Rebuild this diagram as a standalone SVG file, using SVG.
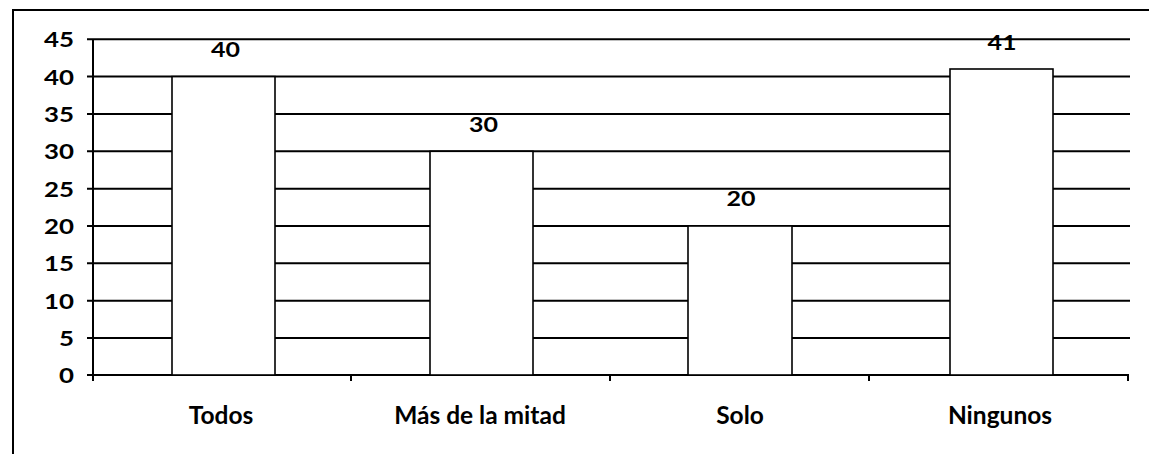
<svg xmlns="http://www.w3.org/2000/svg" width="1149" height="454" viewBox="0 0 1149 454">
<style>
.grid{stroke:#000;stroke-width:2;fill:none}
.axis{stroke:#000;stroke-width:2;fill:none}
.bar{fill:#fff;stroke:#000;stroke-width:1.6}
.t{font-family:Lato,"Open Sans","Liberation Sans",sans-serif;font-weight:bold;fill:#000}
.yl{font-size:21.5px;text-anchor:end}
.vl{font-size:21.5px;text-anchor:middle}
.cl{font-size:24.5px;text-anchor:middle}
</style>
<rect width="1149" height="454" fill="#fff"/>
<path class="axis" d="M13,454 V10 H1149"/>
<g id="gridlines">
<path class="grid" d="M87,39.3H1130M87,76.6H1130M87,114H1130M87,151.3H1130M87,188.7H1130M87,226H1130M87,263.3H1130M87,300.7H1130M87,338H1130"/>
</g>
<g id="axes">
<path class="axis" d="M93,39 V376 M87,375 H1129 M93,375V381 M351,375V381 M610,375V381 M869,375V381 M1128,375V381"/>
</g>
<g id="y-labels" class="t yl">
<text x="74" y="47" textLength="30" lengthAdjust="spacingAndGlyphs">45</text>
<text x="74" y="84.5" textLength="30" lengthAdjust="spacingAndGlyphs">40</text>
<text x="74" y="121.5" textLength="30" lengthAdjust="spacingAndGlyphs">35</text>
<text x="74" y="159" textLength="30" lengthAdjust="spacingAndGlyphs">30</text>
<text x="74" y="196.5" textLength="30" lengthAdjust="spacingAndGlyphs">25</text>
<text x="74" y="233.5" textLength="30" lengthAdjust="spacingAndGlyphs">20</text>
<text x="74" y="271" textLength="30" lengthAdjust="spacingAndGlyphs">15</text>
<text x="74" y="308.5" textLength="30" lengthAdjust="spacingAndGlyphs">10</text>
<text x="74" y="345.5" textLength="15" lengthAdjust="spacingAndGlyphs">5</text>
<text x="74" y="383" textLength="15" lengthAdjust="spacingAndGlyphs">0</text>
</g>
<g id="bar-todos">
<rect class="bar" x="172" y="76.6" width="103" height="298.4"/>
<text class="t vl" x="225.5" y="57" textLength="29" lengthAdjust="spacingAndGlyphs">40</text>
<text class="t cl" x="221" y="424">Todos</text>
</g>
<g id="bar-mas">
<rect class="bar" x="430" y="151.3" width="103" height="223.7"/>
<text class="t vl" x="483.5" y="132" textLength="29" lengthAdjust="spacingAndGlyphs">30</text>
<text class="t cl" x="480" y="424">Más de la mitad</text>
</g>
<g id="bar-solo">
<rect class="bar" x="688" y="226" width="104" height="149"/>
<text class="t vl" x="741" y="206" textLength="29" lengthAdjust="spacingAndGlyphs">20</text>
<text class="t cl" x="740" y="424">Solo</text>
</g>
<g id="bar-ningunos">
<rect class="bar" x="950" y="69" width="103" height="306"/>
<text class="t vl" x="1002" y="50" textLength="29" lengthAdjust="spacingAndGlyphs">41</text>
<text class="t cl" x="1000" y="424">Ningunos</text>
</g>
</svg>
